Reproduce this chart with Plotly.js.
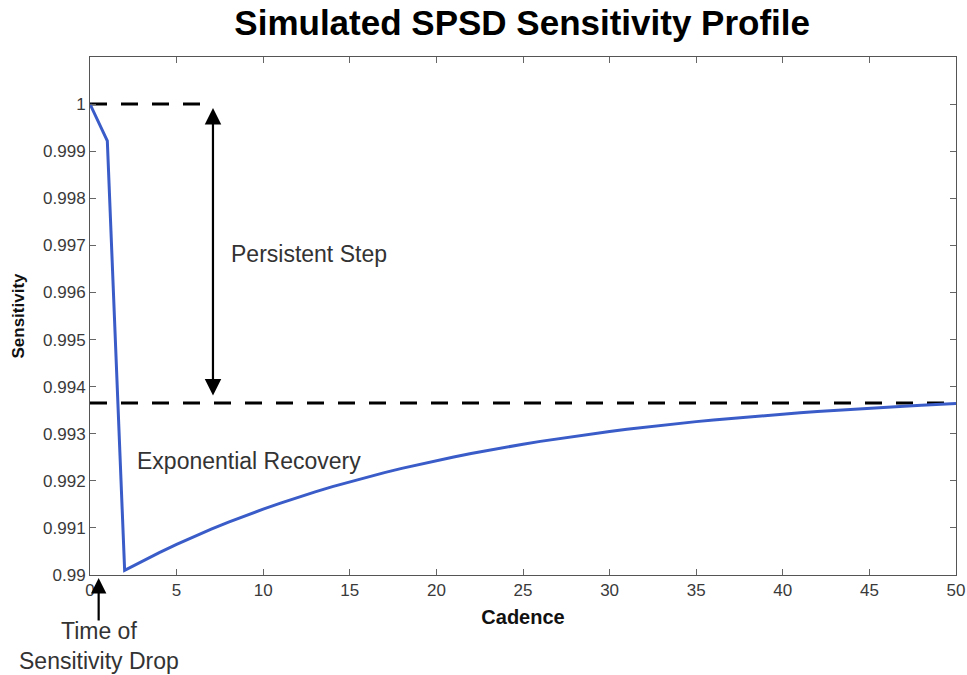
<!DOCTYPE html>
<html>
<head>
<meta charset="utf-8">
<script src="https://cdn.plot.ly/plotly-3.0.1.min.js"></script>
<style>
  html, body { margin: 0; padding: 0; background: #fff; }
  #chart { width: 967px; height: 675px; }
</style>
</head>
<body>
<div id="chart"></div>
<script>
// ---- data ----
const cadence = [0,1,2,3,4,5,6,7,8,9,10,11,12,13,14,15,16,17,18,19,20,21,22,23,24,25,26,27,28,29,30,31,32,33,34,35,36,37,38,39,40,41,42,43,44,45,46,47,48,49,50];
const sensitivity = [
  1.000000, 0.999220, 0.990100, 0.990293, 0.990476, 0.990650, 0.990816, 0.990973, 0.991123, 0.991265,
  0.991400, 0.991528, 0.991650, 0.991766, 0.991876, 0.991980, 0.992080, 0.992174, 0.992264, 0.992349,
  0.992430, 0.992507, 0.992580, 0.992649, 0.992715, 0.992778, 0.992838, 0.992894, 0.992948, 0.992999,
  0.993048, 0.993094, 0.993138, 0.993179, 0.993219, 0.993257, 0.993292, 0.993326, 0.993359, 0.993389,
  0.993418, 0.993446, 0.993472, 0.993497, 0.993521, 0.993543, 0.993565, 0.993585, 0.993605, 0.993623,
  0.993641
];
const initialLevelX = [0, 6.55];
const initialLevelY = [1.0, 1.0];
const stepLevelX = [0, 50];
const stepLevelY = [0.99365, 0.99365];
const arrowCadence = 7.1;
const dropCadence = 0.5;

const xTickVals = [0,5,10,15,20,25,30,35,40,45,50];
const xTickText = ['0','5','10','15','20','25','30','35','40','45','50'];
const yTickVals = [0.990,0.991,0.992,0.993,0.994,0.995,0.996,0.997,0.998,0.999,1.000];
const yTickText = ['0.99','0.991','0.992','0.993','0.994','0.995','0.996','0.997','0.998','0.999','1'];

const titleText = 'Simulated SPSD Sensitivity Profile';
const xTitle = 'Cadence';
const yTitle = 'Sensitivity';
const labelStep = 'Persistent Step';
const labelRecovery = 'Exponential Recovery';
const labelDrop = 'Time of<br>Sensitivity Drop';

// ---- drawing ----
const FONT = 'Liberation Sans, Arial, Helvetica, sans-serif';

const traces = [
  {
    x: initialLevelX, y: initialLevelY, mode: 'lines', hoverinfo: 'skip',
    line: { color: '#000000', width: 3, dash: '17px,14px' }
  },
  {
    x: stepLevelX, y: stepLevelY, mode: 'lines', hoverinfo: 'skip',
    line: { color: '#000000', width: 3, dash: '17px,14px' }
  },
  {
    x: cadence, y: sensitivity, mode: 'lines',
    line: { color: '#3a5cc8', width: 3 }
  }
];

const axisCommon = {
  showline: true, mirror: 'ticks', linecolor: '#555', linewidth: 1,
  ticks: 'inside', ticklen: 6, tickcolor: '#666', tickwidth: 1,
  showgrid: false, zeroline: false,
  tickfont: { family: FONT, size: 17, color: '#3a3a3a' }
};

const layout = {
  width: 967, height: 675,
  margin: { l: 90, r: 11, t: 57, b: 100 },
  paper_bgcolor: '#ffffff', plot_bgcolor: '#ffffff',
  showlegend: false,
  title: {
    text: '<b>' + titleText + '</b>',
    font: { family: FONT, size: 35, color: '#000' },
    x: 0.54, xanchor: 'center', y: 0.966, yanchor: 'middle'
  },
  xaxis: Object.assign({}, axisCommon, {
    range: [0, 50],
    tickvals: xTickVals, ticktext: xTickText,
    title: { text: '<b>' + xTitle + '</b>', font: { family: FONT, size: 20, color: '#111' }, standoff: 10 }
  }),
  yaxis: Object.assign({}, axisCommon, {
    range: [0.990, 1.001],
    tickvals: yTickVals, ticktext: yTickText,
    title: { text: '<b>' + yTitle + '</b>', font: { family: FONT, size: 17, color: '#111' }, standoff: 14 }
  }),
  annotations: [
    {
      x: arrowCadence, y: initialLevelY[0], ax: arrowCadence, ay: stepLevelY[0],
      xref: 'x', yref: 'y', axref: 'x', ayref: 'y',
      text: '', showarrow: true, arrowside: 'end+start',
      arrowhead: 2, startarrowhead: 2, arrowsize: 1.5, startarrowsize: 1.5,
      arrowwidth: 2.2, arrowcolor: '#000', standoff: 4, startstandoff: 6
    },
    {
      x: dropCadence, y: -0.006, xref: 'x', yref: 'paper',
      ax: 0, ay: 44, text: '', showarrow: true,
      arrowhead: 2, arrowsize: 1.4, arrowwidth: 2.2, arrowcolor: '#000'
    },
    {
      x: 8.0, y: 0.99681, xref: 'x', yref: 'y', xanchor: 'left', yanchor: 'middle',
      text: labelStep, showarrow: false,
      font: { family: FONT, size: 23, color: '#333' }
    },
    {
      x: 2.6, y: 0.99243, xref: 'x', yref: 'y', xanchor: 'left', yanchor: 'middle',
      text: labelRecovery, showarrow: false,
      font: { family: FONT, size: 23, color: '#333' }
    },
    {
      x: dropCadence, y: -0.137, xref: 'x', yref: 'paper', xanchor: 'center', yanchor: 'middle',
      text: labelDrop, showarrow: false,
      font: { family: FONT, size: 23, color: '#333' }
    }
  ]
};

Plotly.newPlot('chart', traces, layout, { displayModeBar: false, staticPlot: true });
</script>
</body>
</html>
